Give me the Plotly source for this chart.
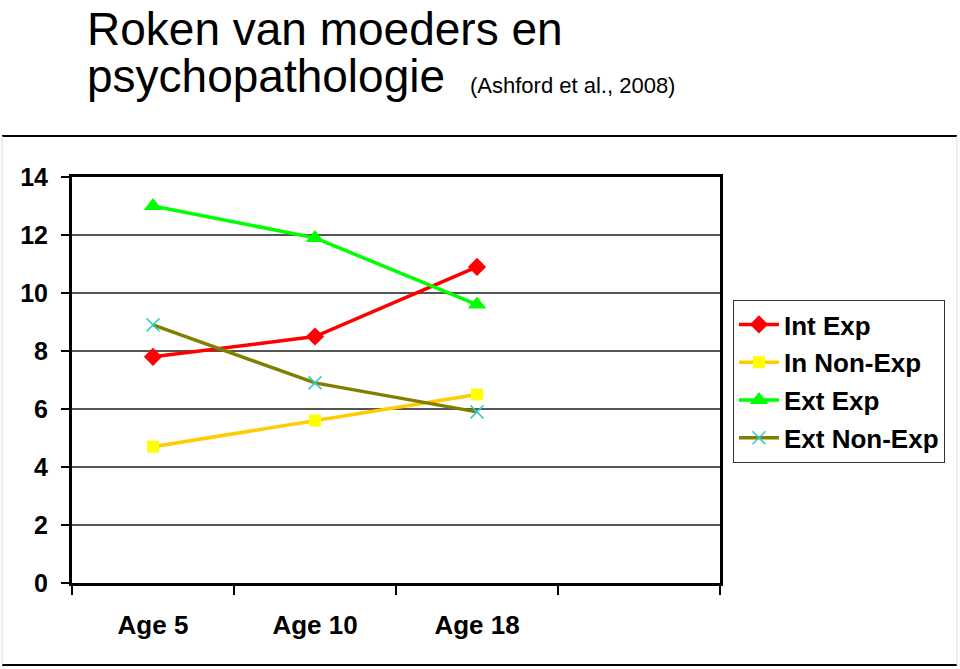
import plotly.graph_objects as go

categories = ["Age 5", "Age 10", "Age 18"]
series_names = ["Int Exp", "In Non-Exp", "Ext Exp", "Ext Non-Exp"]
int_exp = [7.8, 8.5, 10.9]
in_non_exp = [4.7, 5.6, 6.5]
ext_exp = [13.0, 11.9, 9.6]
ext_non_exp = [8.9, 6.9, 5.9]
y_ticks = [0, 2, 4, 6, 8, 10, 12, 14]

xpos = list(range(1, len(categories) + 1))
boundaries = [i + 0.5 for i in range(0, len(categories) + 2)]

styles = [
    dict(line_color="#FF0000", marker=dict(symbol="diamond", size=14, color="#FF0000")),
    dict(line_color="#FFCC00", marker=dict(symbol="square", size=12, color="#FFFF00")),
    dict(line_color="#00FF00", marker=dict(symbol="triangle-up", size=16, color="#00FF00")),
    dict(line_color="#808000", marker=dict(symbol="x-thin", size=13, color="#33CCCC",
                                           line=dict(color="#33CCCC", width=1.5))),
]

fig = go.Figure()
for name, vals, st in zip(series_names, [int_exp, in_non_exp, ext_exp, ext_non_exp], styles):
    fig.add_trace(go.Scatter(
        x=xpos, y=vals, name=name, mode="lines+markers",
        line=dict(color=st["line_color"], width=3.5),
        marker=st["marker"], legendgroup=name,
    ))

font_main = "Liberation Sans, Arial, sans-serif"

fig.update_layout(
    width=960, height=669,
    margin=dict(l=72, r=240, t=177, b=86),
    paper_bgcolor="white", plot_bgcolor="white",
    showlegend=True,
    legend=dict(
        x=1.02, y=0.697, xanchor="left", yanchor="top",
        bordercolor="#333333", borderwidth=1,
        font=dict(family=font_main, size=26, color="black", weight="bold"),
        tracegroupgap=1, itemwidth=40,
    ),
    xaxis=dict(
        range=[0.5, 4.5], tickmode="array", tickvals=xpos, ticktext=categories,
        ticks="", showgrid=False, zeroline=False,
        showline=True, linecolor="black", linewidth=3, mirror=True,
        tickfont=dict(family=font_main, size=26, color="black", weight="bold"),
        ticklabelstandoff=17,
        minor=dict(tickmode="array", tickvals=boundaries, ticks="outside",
                   ticklen=9, tickwidth=1.5, tickcolor="black", showgrid=False),
    ),
    yaxis=dict(
        range=[0, 14], tickmode="array", tickvals=y_ticks,
        ticks="outside", ticklen=8, tickwidth=1.5, tickcolor="black",
        showgrid=True, gridcolor="#555555", gridwidth=1.5, zeroline=False,
        showline=True, linecolor="black", linewidth=3, mirror=True,
        tickfont=dict(family=font_main, size=25, color="black", weight="bold"),
        ticklabelstandoff=8,
    ),
    shapes=[
        dict(type="line", xref="paper", yref="paper", x0=-0.108, x1=1.3657, y0=1.101, y1=1.101,
             line=dict(color="black", width=2)),
        dict(type="line", xref="paper", yref="paper", x0=-0.108, x1=1.3657, y0=-0.202, y1=-0.202,
             line=dict(color="black", width=2)),
        dict(type="line", xref="paper", yref="paper", x0=-0.108, x1=-0.108, y0=-0.202, y1=1.101,
             line=dict(color="#dddddd", width=1)),
        dict(type="line", xref="paper", yref="paper", x0=1.3657, x1=1.3657, y0=-0.202, y1=1.101,
             line=dict(color="#dddddd", width=1)),
    ],
    annotations=[
        dict(text="Roken van moeders en", xref="paper", yref="paper", x=0.02, y=1.4335,
             xanchor="left", yanchor="top", showarrow=False,
             font=dict(family=font_main, size=46, color="black")),
        dict(text="psychopathologie", xref="paper", yref="paper", x=0.02, y=1.248,
             xanchor="left", yanchor="middle", showarrow=False,
             font=dict(family=font_main, size=46, color="black")),
        dict(text="(Ashford et al., 2008)", xref="paper", yref="paper", x=0.611, y=1.226,
             xanchor="left", yanchor="middle", showarrow=False,
             font=dict(family=font_main, size=22, color="black")),
    ],
)

fig.write_html("out.html")
